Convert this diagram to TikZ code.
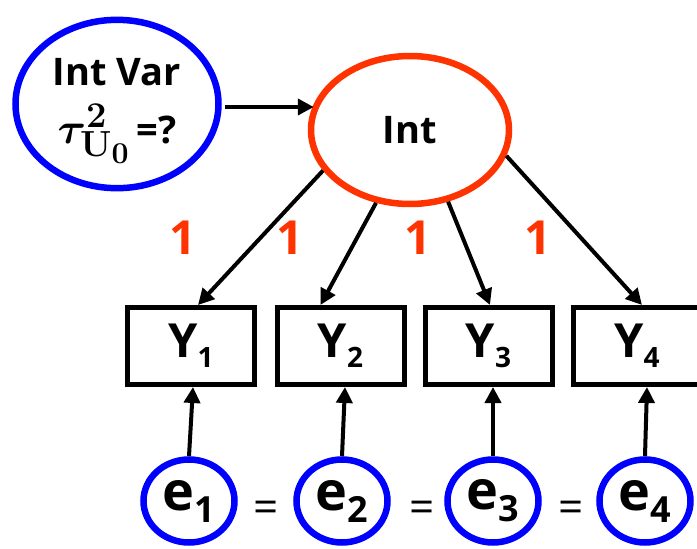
\documentclass[tikz,border=0pt]{standalone}
\usepackage{graphicx}
\usepackage[no-math]{fontspec}
\setmainfont{Open Sans}
\usetikzlibrary{arrows.meta,shapes.geometric,calc}
\definecolor{myblue}{RGB}{0,0,255}
\definecolor{myred}{RGB}{255,51,0}
\newcommand\ysubtxt[1]{Y\raisebox{-10pt}{\fontsize{28}{28}\selectfont #1}}
\newcommand\esubtxt[1]{e\raisebox{-12pt}{\fontsize{36}{36}\selectfont #1}}
\newcommand\taumath{\scalebox{1.75}{\fontsize{24.88}{25}\selectfont\boldmath$\tau^{2}_{\mathbf{U}_{0}}$}}
\begin{document}
\begin{tikzpicture}[x=1pt,y=-1pt,
  ell/.style={ellipse, line width=6.5pt, inner sep=0pt, align=center},
  boxnode/.style={rectangle, draw=black, line width=5pt, minimum width=127pt, minimum height=77pt, inner sep=0pt, font=\bfseries\fontsize{47}{47}\selectfont},
  enode/.style={ellipse, draw=myblue, line width=6.5pt, minimum width=91pt, minimum height=83pt, inner sep=0pt, font=\bfseries\fontsize{54}{54}\selectfont},
  arr/.style={line width=4pt, -{Triangle[length=16pt,width=16pt]}},
  onelab/.style={text=myred, font=\bfseries\fontsize{47}{47}\selectfont},
  eqlab/.style={font=\fontsize{44}{44}\selectfont}
]
\useasboundingbox (0,0) rectangle (697,549);
\fill[white] (0,0) rectangle (697,549);

\node[ell, draw=myblue, minimum width=203pt, minimum height=168pt, font=\bfseries\fontsize{38}{44}\selectfont] (intvar) at (117,104) {\rule{0pt}{41pt}Int Var\\[14pt]\taumath\,=?};
\node[ell, draw=myred, minimum width=198pt, minimum height=148pt, font=\bfseries\fontsize{38}{46}\selectfont] (int) at (410,130) {Int};

\node[boxnode] (Y1) at (191,346) {\ysubtxt{1}};
\node[boxnode] (Y2) at (340.5,346) {\ysubtxt{2}};
\node[boxnode] (Y3) at (488.5,346) {\ysubtxt{3}};
\node[boxnode] (Y4) at (637,346) {\ysubtxt{4}};

\node[enode] (e1) at (189,501) {\esubtxt{1}};
\node[enode] (e2) at (342,501) {\esubtxt{2}};
\node[enode] (e3) at (493,501) {\esubtxt{3}};
\node[enode] (e4) at (645,501) {\esubtxt{4}};

\node[eqlab] (q1) at (266,512) {=};
\node[eqlab] (q2) at (422,512) {=};
\node[eqlab] (q3) at (571,512) {=};

\node[onelab] (w1) at (183,238) {1};
\node[onelab] (w2) at (290,238) {1};
\node[onelab] (w3) at (418,238) {1};
\node[onelab] (w4) at (538,238) {1};

\draw[arr] ($(intvar.east)+(3,3)$) -- ($(intvar.east -| int.west)+(6,3)$);

\draw[arr] (int.205) -- ($(Y1.north)+(7,0)$);
\draw[arr] (int.245) -- ($(Y2.north)+(-20,0)$);
\draw[arr] (int.298) -- ($(Y3.north)+(1.5,0)$);
\draw[arr] (int.345) -- ($(Y4.north)+(5,0)$);

\draw[arr] (e1.north) -- ($(Y1.south)+(2,0)$);
\draw[arr] (e2.north) -- ($(Y2.south)+(4.5,0)$);
\draw[arr] (e3.north) -- ($(Y3.south)+(4.5,0)$);
\draw[arr] (e4.north) -- ($(Y4.south)+(10,0)$);
\end{tikzpicture}
\end{document}
